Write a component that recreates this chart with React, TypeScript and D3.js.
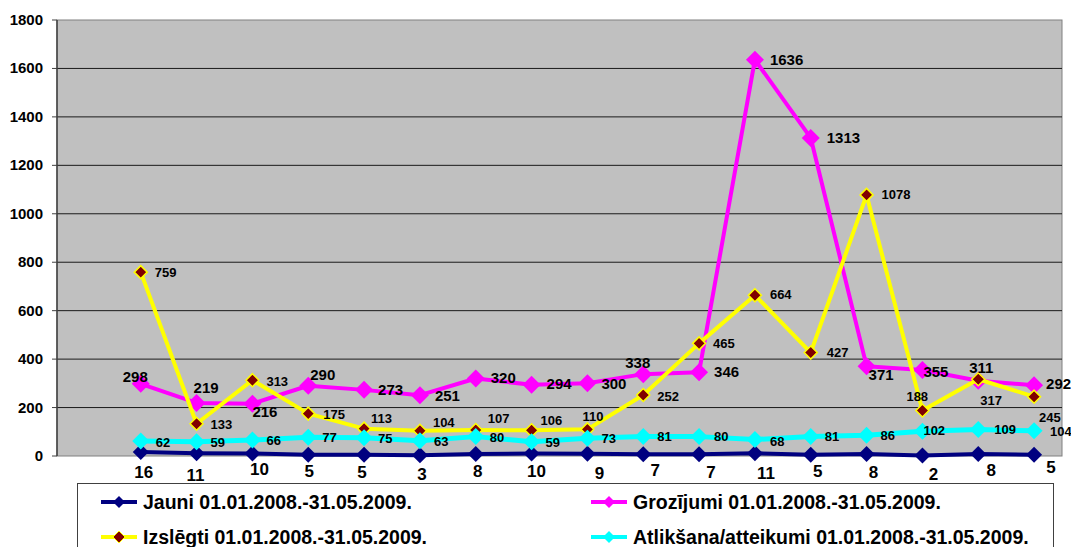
import React from 'react';
import * as d3 from 'd3';

// first slot on the category axis is empty in the source chart
const slots = ['', '1', '2', '3', '4', '5', '6', '7', '8', '9', '10', '11', '12', '13', '14', '15', '16', '17'];

const jauni = [16, 11, 10, 5, 5, 3, 8, 10, 9, 7, 7, 11, 5, 8, 2, 8, 5];
const grozijumi = [298, 219, 216, 290, 273, 251, 320, 294, 300, 338, 346, 1636, 1313, 371, 355, 311, 292];
const izslegti = [759, 133, 313, 175, 113, 104, 107, 106, 110, 252, 465, 664, 427, 1078, 188, 317, 245];
const atliksana = [62, 59, 66, 77, 75, 63, 80, 59, 73, 81, 80, 68, 81, 86, 102, 109, 104];

const yTicks = [0, 200, 400, 600, 800, 1000, 1200, 1400, 1600, 1800];

const period = '01.01.2008.-31.05.2009.';

// label nudges (dx, dy from the point), as placed in the original
const jauniNudge: [number, number][] = [
  [3, 26], [-1, 28], [7, 21], [1, 22], [-2, 23], [2, 25], [2, 23], [5, 23], [12, 25],
  [12, 22], [12, 24], [11, 26], [7, 22], [7, 24], [11, 24], [13, 22], [17, 18],
];
const grozNudge: [number, number][] = [
  [-18, -2], [-3, -10], [0, 13], [2, -6], [14, 5], [15, 6], [15, 5], [15, 4], [14, 6],
  [-18, -6], [15, 5], [15, 5], [16, 5], [2, 14], [1, 7], [-9, -8], [12, 4],
];
const izslNudge: [number, number][] = [
  [14, 5], [14, 5], [14, 6], [15, 5], [7, -6], [13, -4], [12, -7], [9, -5], [-5, -8],
  [14, 6], [14, 5], [15, 4], [16, 4], [15, 4], [-16, -9], [2, 26], [5, 25],
];
const atlNudge: [number, number][] = [
  [15, 6], [14, 5], [14, 5], [14, 5], [14, 5], [14, 5], [14, 5], [14, 5], [14, 5],
  [14, 5], [15, 4], [15, 6], [14, 5], [14, 5], [1, 4], [16, 4], [16, 5],
];

const FONT = '"Liberation Sans", Arial, sans-serif';

const W = 1071;
const H = 547;
const plot = { left: 57, right: 1062, top: 20, bottom: 456 };

function diamond(cx: number, cy: number, r: number) {
  return `M${cx},${cy - r}L${cx + r},${cy}L${cx},${cy + r}L${cx - r},${cy}Z`;
}

interface SeriesDef {
  name: string;
  values: number[];
  color: string;
  width: number;
  marker: number;
  markerFill: string;
  markerStroke?: string;
  labelSize: number;
  nudge: [number, number][];
  anchor: 'start' | 'middle';
}

export default function App() {
  const x = d3.scaleBand<string>().domain(slots).range([plot.left, plot.right]);
  const y = d3.scaleLinear().domain([0, 1800]).range([plot.bottom, plot.top]);
  const px = (i: number) => (x(slots[i + 1]) ?? 0) + x.bandwidth() / 2;

  const series: SeriesDef[] = [
    { name: 'Jauni ' + period, values: jauni, color: '#000080', width: 4, marker: 8, markerFill: '#000080', labelSize: 17, nudge: jauniNudge, anchor: 'middle' },
    { name: 'Grozījumi ' + period, values: grozijumi, color: '#FF00FF', width: 4, marker: 9, markerFill: '#FF00FF', labelSize: 15, nudge: grozNudge, anchor: 'start' },
    { name: 'Izslēgti ' + period, values: izslegti, color: '#FFFF00', width: 4, marker: 6.5, markerFill: '#800000', markerStroke: '#FFFF00', labelSize: 13, nudge: izslNudge, anchor: 'start' },
    { name: 'Atlikšana/atteikumi ' + period, values: atliksana, color: '#00FFFF', width: 5, marker: 8.5, markerFill: '#00FFFF', labelSize: 13, nudge: atlNudge, anchor: 'start' },
  ];

  const line = (vals: number[]) =>
    d3.line<number>().x((_, i) => px(i)).y((d) => y(d))(vals) ?? '';

  const legendPos = [
    { x: 101, y: 502 },
    { x: 591, y: 502 },
    { x: 101, y: 537 },
    { x: 591, y: 537 },
  ];

  return (
    <svg width={W} height={H} style={{ position: 'absolute', left: 0, top: 0 }} fontFamily={FONT}>
      <rect x={0} y={0} width={W} height={H} fill="#fff" />
      <rect x={plot.left} y={plot.top} width={plot.right - plot.left} height={plot.bottom - plot.top} fill="#C0C0C0" stroke="#808080" strokeWidth={1} />
      {yTicks.filter((t) => t > 0 && t < 1800).map((t) => (
        <line key={t} x1={plot.left} x2={plot.right} y1={y(t)} y2={y(t)} stroke="#1a1a1a" strokeWidth={1} />
      ))}
      <line x1={plot.left} x2={plot.left} y1={plot.top} y2={plot.bottom} stroke="#404040" strokeWidth={1.5} />
      {yTicks.map((t) => (
        <g key={t}>
          <line x1={plot.left - 5} x2={plot.left} y1={y(t)} y2={y(t)} stroke="#404040" strokeWidth={1} />
          <text x={43} y={y(t) + 5} textAnchor="end" fontSize={15} fontWeight="bold" fill="#000">{t}</text>
        </g>
      ))}

      {series.map((s) => (
        <g key={s.name}>
          <path d={line(s.values)} fill="none" stroke={s.color} strokeWidth={s.width} strokeLinejoin="round" />
          {s.values.map((v, i) => (
            <path key={i} d={diamond(px(i), y(v), s.marker)} fill={s.markerFill} stroke={s.markerStroke ?? 'none'} strokeWidth={1.5} />
          ))}
        </g>
      ))}

      {series.map((s) => (
        <g key={s.name + '-labels'}>
          {s.values.map((v, i) => (
            <text key={i} x={px(i) + s.nudge[i][0]} y={y(v) + s.nudge[i][1]} textAnchor={s.anchor} fontSize={s.labelSize} fontWeight="bold" fill="#000">{v}</text>
          ))}
        </g>
      ))}

      <rect x={77.5} y={483.5} width={976} height={80} fill="#fff" stroke="#404040" strokeWidth={1} />
      {series.map((s, k) => {
        const p = legendPos[k];
        return (
          <g key={s.name + '-legend'}>
            <line x1={p.x} x2={p.x + 36} y1={p.y} y2={p.y} stroke={s.color} strokeWidth={4} />
            <path d={diamond(p.x + 18, p.y, 6)} fill={s.markerFill} stroke={s.markerStroke ?? 'none'} strokeWidth={1} />
            <text x={p.x + 42} y={p.y + 7} fontSize={19.5} fontWeight="bold" fill="#000">{s.name}</text>
          </g>
        );
      })}
    </svg>
  );
}
